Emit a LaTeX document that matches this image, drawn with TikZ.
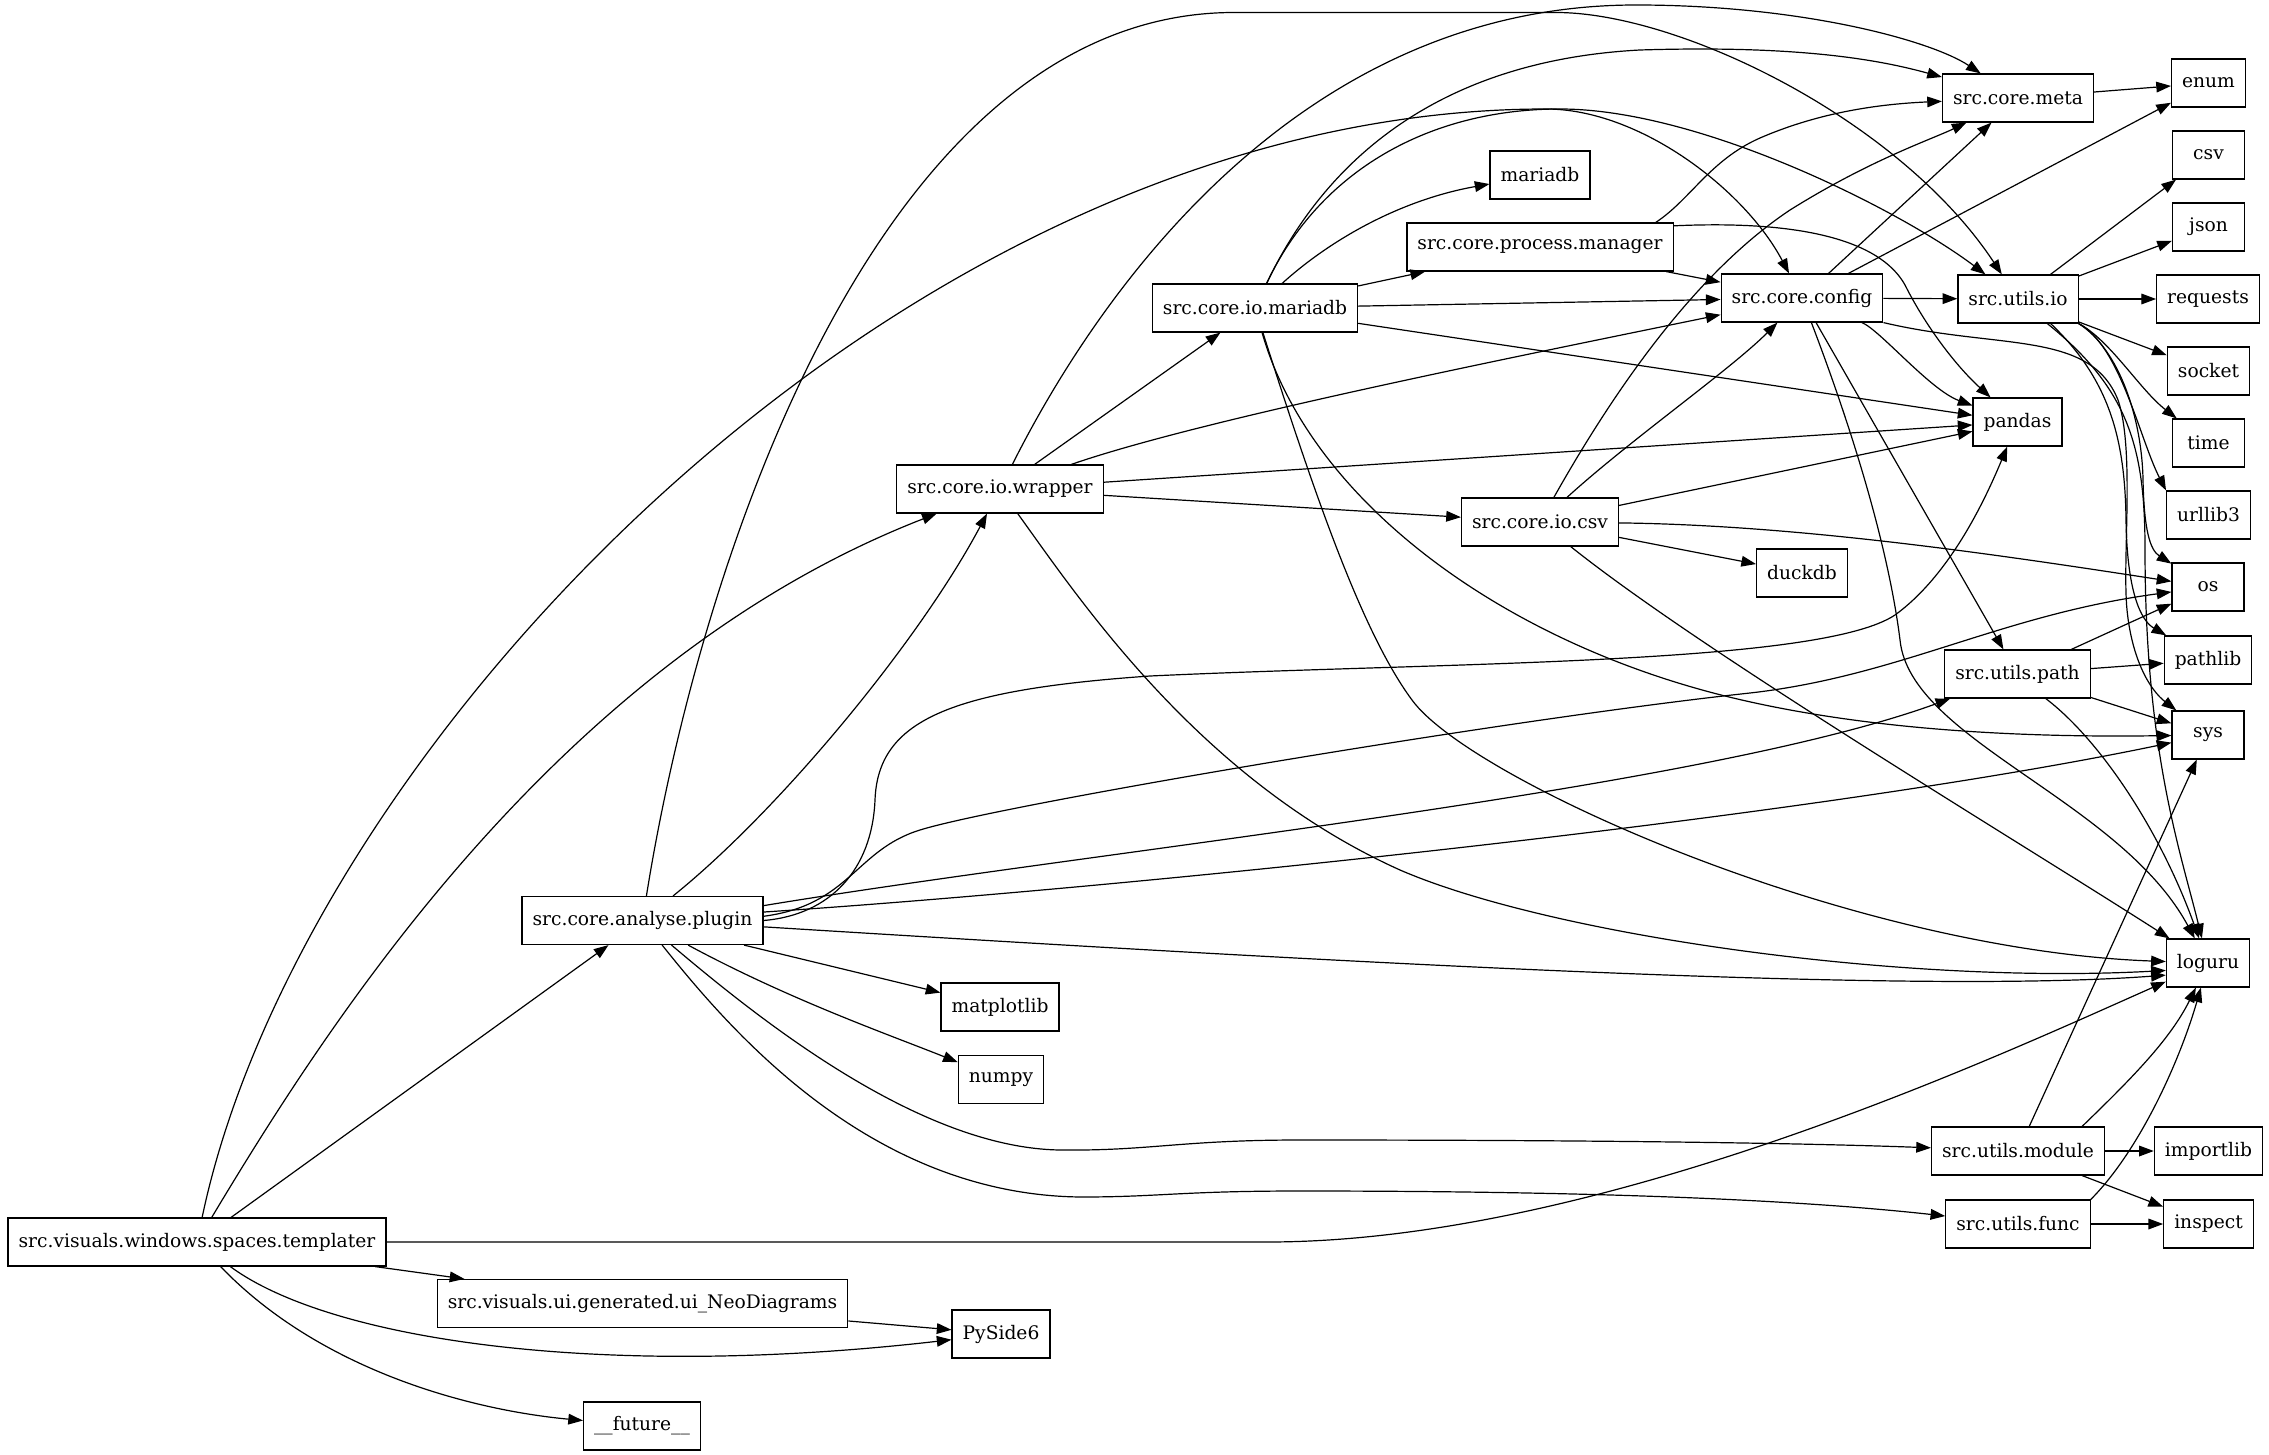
\documentclass[tikz,border=0pt]{standalone}
\usepackage{fontspec}
\setmainfont{DejaVu Serif}
\usetikzlibrary{arrows.meta}
\begin{document}
\begin{tikzpicture}[x=0.75pt,y=-0.75pt,
  mod/.style={draw, line width=0.9pt, rectangle, minimum width=54pt, minimum height=36pt,
    inner xsep=7.92pt, inner ysep=0pt, font=\fontsize{14}{16.8}\selectfont},
  edge/.style={line width=0.9pt, -{Triangle[length=11pt,width=8pt]}}]
\path[use as bounding box, fill=white] (0,0) rectangle (2269,1455);

% nodes
\node[mod] (T) at (197,1242) {src.visuals.windows.spaces.templater};
\node[mod] (ui) at (642.5,1303.5) {src.visuals.ui.generated.ui\_NeoDiagrams};
\node[mod] (pyside) at (1001,1334) {PySide6};
\node[mod] (future) at (642,1426) {\_\_future\_\_};
\node[mod] (plugin) at (642.5,920.5) {src.core.analyse.plugin};
\node[mod] (matplotlib) at (1000,1007) {matplotlib};
\node[mod] (numpy) at (1001,1079.5) {numpy};
\node[mod] (wrapper) at (1000,489) {src.core.io.wrapper};
\node[mod] (iomariadb) at (1255,308) {src.core.io.mariadb};
\node[mod] (mariadbn) at (1540,175) {mariadb};
\node[mod] (pm) at (1540,247) {src.core.process.manager};
\node[mod] (csvio) at (1540,522) {src.core.io.csv};
\node[mod] (config) at (1802,298) {src.core.config};
\node[mod] (duckdb) at (1802,573) {duckdb};
\node[mod] (meta) at (2018,98) {src.core.meta};
\node[mod] (utilsio) at (2018,299) {src.utils.io};
\node[mod] (pandas) at (2017.5,422) {pandas};
\node[mod] (utilspath) at (2017.5,674) {src.utils.path};
\node[mod] (utilsmodule) at (2018,1151) {src.utils.module};
\node[mod] (utilsfunc) at (2018,1224) {src.utils.func};
\node[mod] (enum) at (2208.5,83) {enum};
\node[mod] (csv) at (2208.5,155) {csv};
\node[mod] (json) at (2208.5,227) {json};
\node[mod] (requests) at (2208,299) {requests};
\node[mod] (socket) at (2208.5,371) {socket};
\node[mod] (time) at (2208.5,443) {time};
\node[mod] (urllib3) at (2208.5,515) {urllib3};
\node[mod] (os) at (2208,587) {os};
\node[mod] (pathlib) at (2208,660) {pathlib};
\node[mod] (sys) at (2208,735) {sys};
\node[mod] (loguru) at (2208,963) {loguru};
\node[mod] (importlib) at (2208.5,1151) {importlib};
\node[mod] (inspect) at (2208.5,1224) {inspect};

% templater
\draw[edge] (T) -- (plugin);
\draw[edge] (T) .. controls (330,1020) and (560,660) .. (wrapper);
\draw[edge] (T) .. controls (300,750) and (900,109) .. (1546,109) .. controls (1640,109) and (1745,190) .. (config);
\draw[edge] (T.east) -- (1267,1242) .. controls (1600,1242) and (2000,1055) .. (loguru);
\draw[edge] (T) -- (ui);
\draw[edge] (T) .. controls (330,1340) and (600,1380) .. (pyside);
\draw[edge] (T) .. controls (320,1370) and (470,1410) .. (future);
\draw[edge] (ui) -- (pyside);

% plugin
\draw[edge] (plugin) .. controls (700,560) and (880,12.5) .. (1234,12.5) -- (1556,12.5) .. controls (1680,12.5) and (1900,120) .. (utilsio);
\draw[edge] (plugin) .. controls (780,810) and (920,640) .. (wrapper);
\draw[edge] (plugin.east) .. controls (830,915) and (872,870) .. (875,800) .. controls (878,720) and (950,690) .. (1150,676) .. controls (1450,662) and (1820,665) .. (1895,615) .. controls (1950,575) and (1985,500) .. (pandas);
\draw[edge] (plugin.2.6) .. controls (850,905) and (855,850) .. (920,830) .. controls (1000,805) and (1500,720) .. (1750,693) .. controls (1900,676) and (2000,615) .. (os);
\draw[edge] (plugin.7.7) .. controls (1100,850) and (1700,790) .. (utilspath);
\draw[edge] (plugin.4) .. controls (1100,890) and (1800,820) .. (sys);
\draw[edge] (plugin.-3.5) .. controls (1300,960) and (1900,995) .. (loguru.196);
\draw[edge] (plugin) -- (matplotlib);
\draw[edge] (plugin) .. controls (790,1000) and (890,1035) .. (numpy);
\draw[edge] (plugin) .. controls (760,1020) and (920,1148) .. (1060,1150) .. controls (1150,1151) and (1180,1140) .. (1300,1140) .. controls (1600,1140) and (1800,1143) .. (utilsmodule);
\draw[edge] (plugin) .. controls (730,1030) and (870,1195) .. (1081,1197) .. controls (1160,1197) and (1180,1191) .. (1300,1191) .. controls (1600,1191) and (1800,1200) .. (utilsfunc);

% wrapper
\draw[edge] (wrapper) -- (iomariadb);
\draw[edge] (wrapper) .. controls (1200,420) and (1500,360) .. (config);
\draw[edge] (wrapper) -- (pandas);
\draw[edge] (wrapper) -- (csvio);
\draw[edge] (wrapper) .. controls (1100,290) and (1300,5) .. (1636,5) .. controls (1800,5) and (1930,40) .. (meta);
\draw[edge] (wrapper) .. controls (1080,600) and (1200,780) .. (1400,870) .. controls (1550,935) and (1900,985) .. (loguru.190);

% io.mariadb
\draw[edge] (iomariadb) .. controls (1330,240) and (1400,200) .. (mariadbn);
\draw[edge] (iomariadb) -- (pm);
\draw[edge] (iomariadb) -- (config);
\draw[edge] (iomariadb) -- (pandas);
\draw[edge] (iomariadb) .. controls (1330,150) and (1450,60) .. (1640,50) .. controls (1800,45) and (1880,60) .. (meta);
\draw[edge] (iomariadb) .. controls (1320,170) and (1430,109) .. (1560,109) .. controls (1700,109) and (1900,210) .. (utilsio);
\draw[edge] (iomariadb) .. controls (1310,500) and (1500,640) .. (1725,696) .. controls (1850,727) and (2000,738) .. (sys);
\draw[edge] (iomariadb) .. controls (1310,480) and (1360,630) .. (1412,700) .. controls (1470,780) and (1850,950) .. (loguru.178);

% process.manager
\draw[edge] (pm.12.4) .. controls (1690,200) and (1710,160) .. (1760,138) .. controls (1820,112) and (1880,104) .. (meta);
\draw[edge] (pm) -- (config);
\draw[edge] (pm.9) .. controls (1800,220) and (1880,240) .. (1905,285) .. controls (1925,325) and (1955,365) .. (pandas);

% io.csv
\draw[edge] (csvio) .. controls (1620,380) and (1700,270) .. (1790,210) .. controls (1870,160) and (1930,140) .. (meta);
\draw[edge] (csvio) .. controls (1630,440) and (1730,370) .. (config);
\draw[edge] (csvio) -- (pandas);
\draw[edge] (csvio) .. controls (1800,525) and (2000,555) .. (os);
\draw[edge] (csvio) -- (duckdb);
\draw[edge] (csvio) .. controls (1700,650) and (2000,830) .. (loguru);

% config
\draw[edge] (config) -- (meta);
\draw[edge] (config) -- (enum);
\draw[edge] (config) -- (utilsio);
\draw[edge] (config) .. controls (1880,330) and (1930,390) .. (pandas);
\draw[edge] (config) .. controls (1860,450) and (1890,560) .. (1900,640) .. controls (1910,740) and (2120,800) .. (loguru);
\draw[edge] (config) -- (utilspath);
\draw[edge] (config.south east) .. controls (2000,350) and (2090,330) .. (2118,400) .. controls (2135,450) and (2122,560) .. (2127,610) .. controls (2132,660) and (2150,690) .. (sys);

% meta
\draw[edge] (meta) -- (enum);

% utils.io
\draw[edge] (utilsio) -- (csv);
\draw[edge] (utilsio) -- (json);
\draw[edge] (utilsio) -- (requests);
\draw[edge] (utilsio) -- (socket);
\draw[edge] (utilsio.south east) .. controls (2110,340) and (2140,390) .. (time);
\draw[edge] (utilsio.south east) .. controls (2120,345) and (2140,440) .. (urllib3.north west);
\draw[edge] (utilsio.south east) .. controls (2120,350) and (2142,420) .. (2143,480) .. controls (2144,530) and (2150,550) .. (os);
\draw[edge] (utilsio.-37) .. controls (2110,380) and (2125,440) .. (2126,520) .. controls (2127,590) and (2140,620) .. (pathlib);
\draw[edge] (utilsio.-40) .. controls (2130,390) and (2145,450) .. (2145,550) .. controls (2145,750) and (2180,850) .. (loguru);

% utils.path
\draw[edge] (utilspath) -- (os);
\draw[edge] (utilspath) -- (pathlib);
\draw[edge] (utilspath) -- (sys);
\draw[edge] (utilspath.-41) .. controls (2100,740) and (2160,830) .. (loguru);

% utils.module
\draw[edge] (utilsmodule) -- (sys);
\draw[edge] (utilsmodule.21) .. controls (2130,1080) and (2170,1040) .. (loguru);
\draw[edge] (utilsmodule) -- (importlib);
\draw[edge] (utilsmodule) -- (inspect);

% utils.func
\draw[edge] (utilsfunc) -- (inspect);
\draw[edge] (utilsfunc.north east) .. controls (2140,1150) and (2180,1060) .. (loguru);
\end{tikzpicture}
\end{document}
